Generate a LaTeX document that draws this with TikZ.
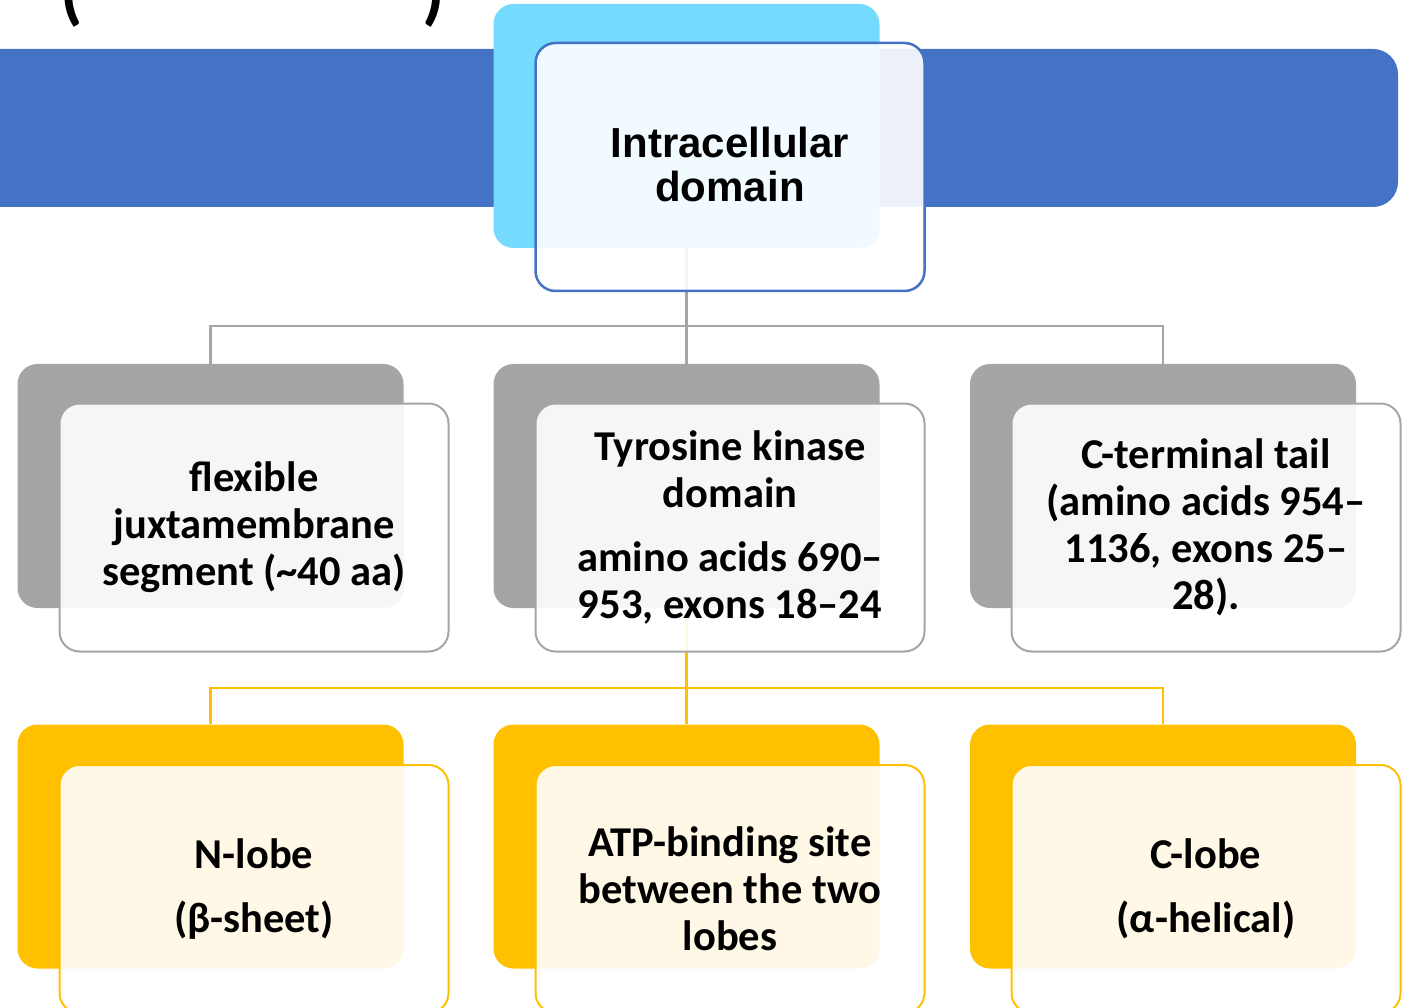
\documentclass[tikz,border=0pt]{standalone}
\usepackage{fontspec}
\usetikzlibrary{calc}
\setmainfont{Carlito}
\newfontfamily\arialf{Liberation Sans}
\definecolor{barblue}{RGB}{68,114,196}
\definecolor{cyanb}{RGB}{116,219,255}
\definecolor{greyb}{RGB}{165,165,165}
\definecolor{goldb}{RGB}{255,192,0}
\begin{document}
\begin{tikzpicture}[x=1pt,y=-1pt,
  backbox/.style={rounded corners=20pt, draw=none, inner sep=0pt, minimum width=386pt, minimum height=244pt},
  frontbox/.style={rounded corners=20pt, fill=white, fill opacity=0.9, text opacity=1, line width=2pt, inner sep=0pt,
     minimum width=389pt, minimum height=248pt, align=center, font=\bfseries\fontsize{42.5}{47}\selectfont},
  conn/.style={line width=2.5pt}]
\useasboundingbox (0,0) rectangle (1409,1008);
\clip (0,0) rectangle (1409,1008);
% cut-off title glyphs
\node[font=\bfseries\fontsize{72}{72}\selectfont, anchor=base, inner sep=0pt] (lp) at (72,17) {(};
\node[font=\bfseries\fontsize{72}{72}\selectfont, anchor=base, inner sep=0pt] (rp) at (434,17) {)};
% blue bar
\fill[barblue, rounded corners=25pt] (-40,49) rectangle (1398,207);
% back boxes
\node[backbox, fill=cyanb] (tb) at (686.5,126) {};
\node[backbox, fill=greyb] (lb) at (210.5,486) {};
\node[backbox, fill=greyb] (mb) at (686.5,486) {};
\node[backbox, fill=greyb] (rb) at (1163,486) {};
\node[backbox, fill=goldb] (nb) at (210.5,846.5) {};
\node[backbox, fill=goldb] (ab) at (686.5,846.5) {};
\node[backbox, fill=goldb] (cb) at (1163,846.5) {};
% connectors
\coordinate (gj) at ($(tb.south)+(0,78)$);
\draw[conn, greyb] (tb.south) -- (gj) -| (lb.north);
\draw[conn, greyb] (gj) -| (rb.north);
\draw[conn, greyb] (gj) -- (mb.north);
\coordinate (yj) at ($(mb.south)+(0,80)$);
\draw[conn, goldb] (mb.south) -- (yj) -| (nb.north);
\draw[conn, goldb] (yj) -| (cb.north);
\draw[conn, goldb] (yj) -- (ab.north);
% front boxes
\node[frontbox, draw=barblue, line width=2.5pt] (tf) at (730,167) {};
\node[align=center, font=\arialf\bfseries\fontsize{42}{44}\selectfont] (tt) at (730,164) {Intracellular\\domain};
\node[frontbox, draw=greyb] (lf) at (254,527.5) {flexible\\juxtamembrane\\segment (\textasciitilde40 aa)};
\node[frontbox, draw=greyb] (mf) at (730,527.5) {Tyrosine kinase\\domain\\[17pt]amino acids 690–\\953, exons 18–24};
\node[frontbox, draw=greyb] (rf) at (1206,527.5) {C-terminal tail\\(amino acids 954–\\1136, exons 25–\\28).};
\node[frontbox, draw=goldb] (nf) at (254,889) {N-lobe\\[17pt](β-sheet)};
\node[frontbox, draw=goldb] (af) at (730,889) {ATP-binding site\\between the two\\lobes};
\node[frontbox, draw=goldb] (cf) at (1206,889) {C-lobe\\[17pt](α-helical)};
\end{tikzpicture}
\end{document}
